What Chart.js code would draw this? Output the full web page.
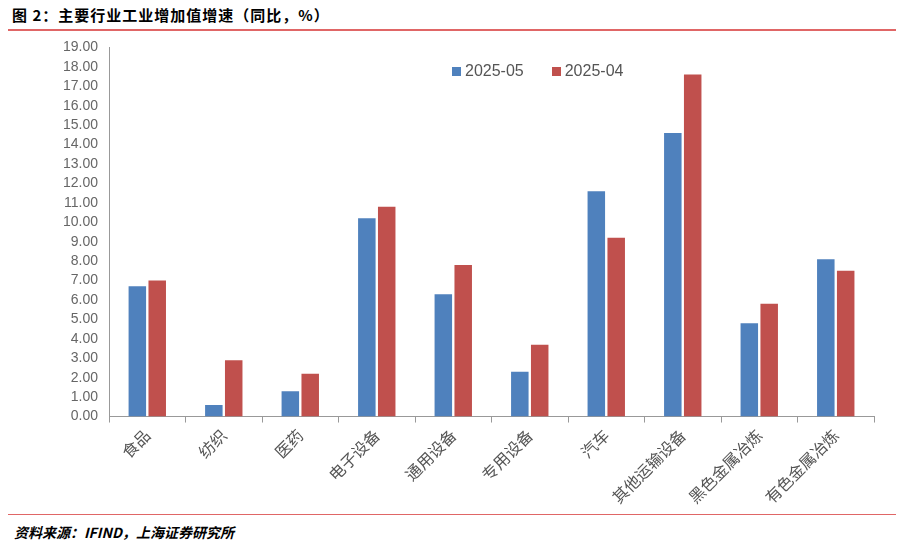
<!DOCTYPE html>
<html><head><meta charset="utf-8">
<script src="https://cdn.jsdelivr.net/npm/chart.js@4"></script>
<style>
body{margin:0;width:904px;height:549px;background:#fff;font-family:"Noto Sans CJK SC",sans-serif;position:relative;overflow:hidden}
#title{position:absolute;left:12px;top:4px;font-size:15px;font-weight:bold;color:#000;letter-spacing:1px}
#l1{position:absolute;left:8px;right:8px;top:29px;height:2px;background:#e06666}
#l2{position:absolute;left:8px;right:8px;top:514px;height:1px;background:#e06666}
#src{position:absolute;left:14px;top:522px;font-size:14px;font-weight:bold;font-style:italic}
#wrap{position:absolute;left:0;top:36px;width:904px;height:474px}
#leg{position:absolute;left:452px;top:62px;font:16px Arial;color:#555;display:flex;gap:28px}
#leg span i{display:inline-block;width:9px;height:9px;margin-right:4px}
</style></head><body>
<div id="title">图 2：主要行业工业增加值增速（同比，%）</div>
<div id="l1"></div>
<div id="wrap"><canvas id="c"></canvas></div>
<div id="leg"></div>
<div id="l2"></div>
<div id="src">资料来源：IFIND，上海证券研究所</div>
<script>
const categories = ['食品','纺织','医药','电子设备','通用设备','专用设备','汽车','其他运输设备','黑色金属冶炼','有色金属冶炼'];
const may25 = [6.7, 0.6, 1.3, 10.2, 6.3, 2.3, 11.6, 14.6, 4.8, 8.1];
const apr25 = [7.0, 2.9, 2.2, 10.8, 7.8, 3.7, 9.2, 17.6, 5.8, 7.5];
const seriesNames = ['2025-05', '2025-04'];
const colors = ['#4f81bd', '#c0504d'];

document.getElementById('leg').innerHTML = seriesNames.map((n, i) =>
    '<span><i style="background:' + colors[i] + '"></i>' + n + '</span>').join('');

const fontFam = '"Noto Sans CJK SC", sans-serif';
new Chart(document.getElementById('c'), {
    type: 'bar',
    data: {
        labels: categories,
        datasets: [
            { label: seriesNames[0], data: may25, backgroundColor: colors[0], categoryPercentage: 0.52, barPercentage: 0.88 },
            { label: seriesNames[1], data: apr25, backgroundColor: colors[1], categoryPercentage: 0.52, barPercentage: 0.88 }
        ]
    },
    options: {
        responsive: true, maintainAspectRatio: false, animation: false,
        layout: { padding: { left: 60, right: 30, top: 10, bottom: 0 } },
        plugins: { legend: { display: false }, tooltip: { enabled: false } },
        scales: {
            y: {
                min: 0, max: 19,
                ticks: { stepSize: 1, autoSkip: false, color: '#666', font: { size: 14, family: 'Arial' }, callback: v => v.toFixed(2) },
                grid: { display: false, drawTicks: true },
                border: { color: '#999' }
            },
            x: {
                ticks: { autoSkip: false, maxRotation: 45, minRotation: 45, color: '#555', font: { size: 16, family: fontFam } },
                grid: { offset: true, drawOnChartArea: false, tickLength: 6, color: '#999' },
                border: { color: '#999' }
            }
        }
    }
});
</script>
</body></html>
